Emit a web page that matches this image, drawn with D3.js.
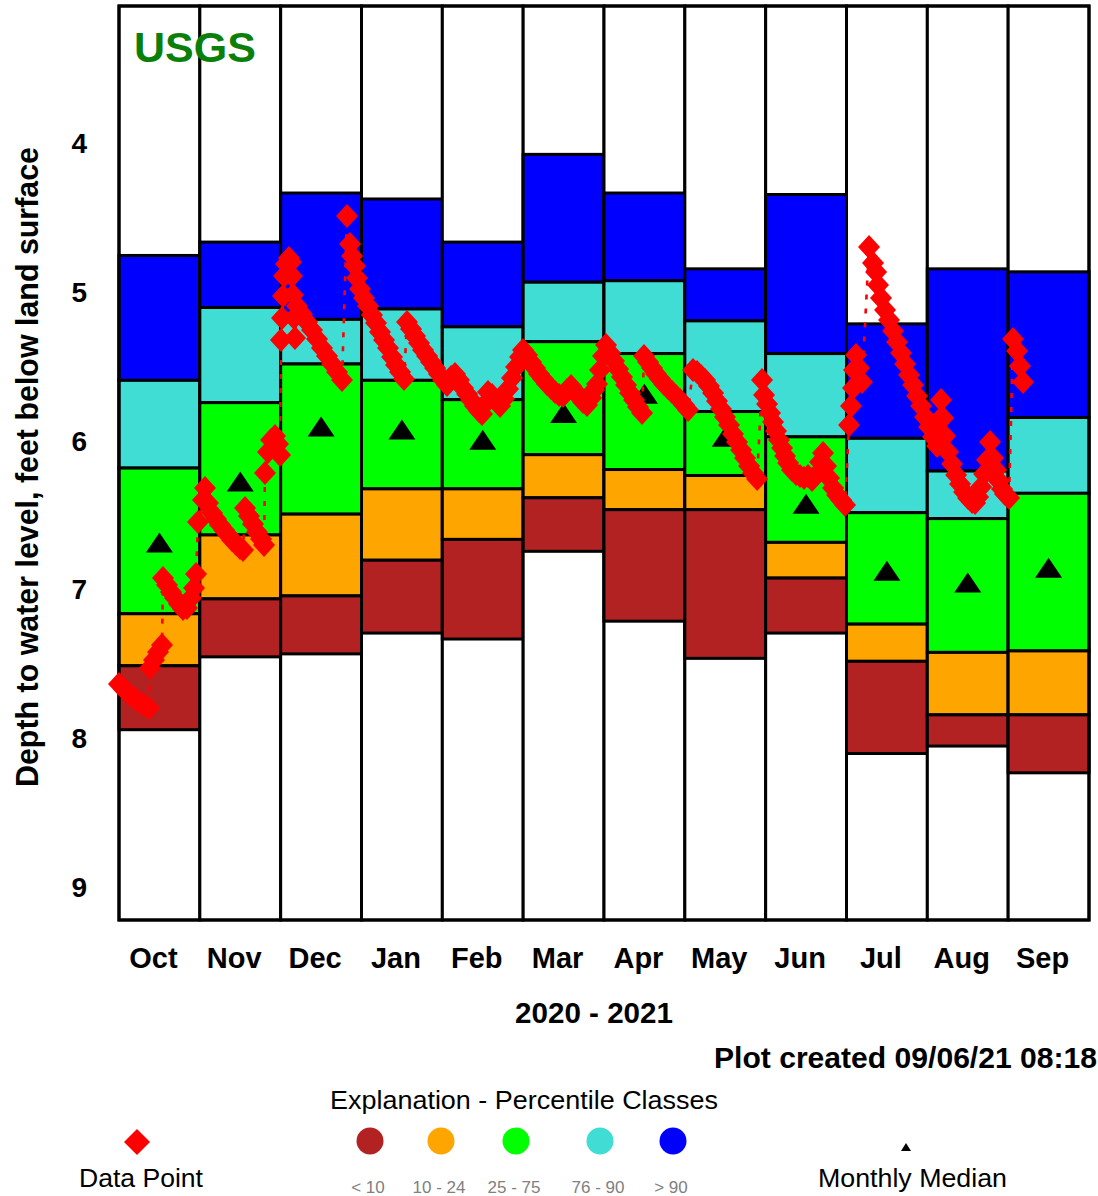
<!DOCTYPE html>
<html><head><meta charset="utf-8">
<script src="https://cdn.jsdelivr.net/npm/d3@7"></script>
<style>body{margin:0;background:#fff}svg{display:block}</style>
</head><body><svg id="c" width="1098" height="1196"></svg>
<script>
const months = ["Oct","Nov","Dec","Jan","Feb","Mar","Apr","May","Jun","Jul","Aug","Sep"];
const pctMax = [4.75,4.66,4.33,4.37,4.66,4.07,4.33,4.84,4.34,5.21,4.84,4.86];
const pct90  = [5.59,5.10,5.18,5.11,5.23,4.93,4.92,5.19,5.41,5.98,6.20,5.84];
const pct75  = [6.18,5.74,5.48,5.59,5.72,5.33,5.41,5.80,5.97,6.48,6.52,6.35];
const pct25  = [7.16,6.63,6.49,6.32,6.32,6.09,6.19,6.23,6.68,7.23,7.42,7.41];
const pct10  = [7.51,7.06,7.04,6.80,6.66,6.38,6.46,6.46,6.92,7.48,7.84,7.84];
const pctMin = [7.94,7.45,7.43,7.29,7.33,6.74,7.21,7.46,7.29,8.10,8.05,8.23];
const monthlyMedian = [6.68,6.27,5.90,5.92,5.99,5.81,5.68,5.97,6.42,6.87,6.95,6.85];
const yTicks = [4,5,6,7,8,9];
const classLabels = ["< 10","10 - 24","25 - 75","76 - 90","> 90"];
const classColors = ["#B22222","#FFA500","#00FF00","#40DDD5","#0000FF"];

// observation position in months since Oct 1 (0..12) and depth (ft)
const obsMonthPos = [
0.000,0.062,0.124,0.186,0.247,0.309,0.371,
0.384,0.433,0.483,0.532,
0.544,0.594,0.643,0.693,0.742,0.792,0.841,0.891,0.928,0.953,0.977,
1.039,1.064,1.101,1.151,1.200,1.250,1.299,1.349,1.398,1.448,1.497,1.534,
1.559,1.608,1.658,1.707,1.757,1.794,
1.806,1.843,1.881,1.930,1.967,1.992,
2.004,2.017,2.029,2.041,2.066,2.103,2.128,2.140,2.153,2.165,2.177,
2.202,2.264,2.326,2.388,2.450,2.511,2.573,2.635,2.697,2.759,
2.821,2.858,2.883,2.920,2.945,2.982,
3.031,3.081,3.130,3.180,3.229,3.279,3.328,3.378,3.427,3.477,3.526,
3.563,3.613,3.662,3.712,3.761,3.811,3.860,3.910,3.959,4.009,
4.058,4.108,4.157,4.207,4.256,4.306,4.355,4.404,4.454,4.491,4.528,4.565,4.615,4.664,4.714,4.763,4.813,4.862,4.912,4.961,4.998,
5.048,5.097,5.147,5.196,5.246,5.295,5.345,5.394,5.444,5.493,5.543,5.592,5.642,5.691,5.741,5.790,5.840,5.877,5.914,5.951,5.988,6.025,
6.075,6.124,6.174,6.223,6.273,6.322,6.372,6.421,6.471,
6.495,6.545,6.594,6.644,6.693,6.743,6.792,6.842,6.891,6.941,6.990,7.040,
7.101,7.151,7.200,7.250,7.299,7.349,7.398,7.448,7.497,7.547,7.596,7.646,7.696,7.745,7.795,7.844,7.894,
7.955,
7.980,8.017,8.054,8.091,8.128,8.165,8.203,8.240,8.277,8.326,8.376,8.425,8.475,8.524,8.574,8.623,8.673,8.710,8.747,8.784,8.834,8.883,8.933,8.982,
9.032,9.056,9.081,9.093,9.118,9.155,9.192,
9.279,9.328,9.366,9.390,9.427,9.477,9.526,9.576,9.625,9.675,9.725,9.774,9.824,9.873,9.923,9.972,10.022,
10.071,10.121,10.145,10.170,10.195,10.220,10.257,10.306,10.356,10.405,10.455,10.504,10.554,10.591,10.628,10.665,10.702,10.739,10.776,10.813,10.850,10.887,10.924,10.961,11.011,
11.060,11.110,11.147,11.184];
const obsDepth = [
7.632,7.666,7.700,7.727,7.754,7.774,7.794,
7.525,7.471,7.417,7.370,
6.919,6.966,7.014,7.054,7.094,7.128,7.121,7.054,6.987,6.893,6.543,
6.395,6.314,6.415,6.482,6.523,6.563,6.597,6.630,6.664,6.691,6.718,6.731,
6.449,6.502,6.556,6.610,6.657,6.697,
6.213,6.072,5.991,5.964,6.018,6.092,
5.318,5.170,5.022,4.888,4.807,4.767,4.794,4.888,5.016,5.170,5.305,
5.090,5.144,5.197,5.251,5.312,5.372,5.426,5.480,5.534,5.588,
4.484,4.673,4.753,4.821,4.901,4.975,
5.036,5.090,5.150,5.204,5.265,5.318,5.372,5.433,5.487,5.534,5.581,
5.197,5.244,5.292,5.339,5.386,5.426,5.466,5.507,5.547,5.588,
5.621,5.567,5.547,5.588,5.641,5.682,5.722,5.762,5.796,5.816,5.749,5.668,5.688,5.729,5.762,5.715,5.648,5.574,5.500,5.433,5.386,
5.419,5.466,5.507,5.547,5.581,5.614,5.641,5.668,5.688,5.695,5.655,5.628,5.662,5.702,5.735,5.756,5.709,5.655,5.614,5.520,5.426,5.352,
5.406,5.460,5.514,5.567,5.621,5.675,5.722,5.769,5.809,
5.426,5.466,5.507,5.547,5.581,5.614,5.641,5.668,5.695,5.722,5.756,5.789,
5.520,5.534,5.561,5.588,5.628,5.675,5.729,5.783,5.836,5.890,5.951,6.005,6.058,6.112,6.166,6.213,6.253,
5.588,
5.688,5.749,5.809,5.870,5.931,5.991,6.045,6.099,6.146,6.193,6.220,6.233,6.247,6.233,6.260,6.227,6.139,6.079,6.166,6.247,6.314,6.361,6.395,6.428,
5.890,5.762,5.641,5.520,5.419,5.507,5.601,
4.693,4.800,4.861,4.948,5.036,5.117,5.184,5.258,5.332,5.406,5.480,5.554,5.621,5.695,5.762,5.836,5.904,
5.971,6.031,5.857,5.722,5.843,5.964,6.072,6.153,6.227,6.287,6.341,6.381,6.408,6.415,6.375,6.307,6.220,6.126,6.005,6.112,6.193,6.267,6.321,6.354,6.381,
5.312,5.392,5.493,5.601];

const svg = d3.select("#c");
const font = "Liberation Sans, Arial, sans-serif";
const L = 119, R = 1089, T = 6, B = 920;
const x = d3.scaleBand().domain(months).range([L, R]).padding(0);
const xPos = d3.scaleLinear().domain([0, 12]).range([L, R]);
const y = d3.scaleLinear().domain([3.072, 9.22]).range([T, B]);
const bw = x.bandwidth();

// month columns with percentile bands
const gCols = svg.append("g");
const bandFill = ["#0000FF", "#40DDD5", "#00FF00", "#FFA500", "#B22222"];
months.forEach((m, i) => {
  gCols.append("rect").attr("x", x(m)).attr("y", T).attr("width", bw).attr("height", B - T)
    .attr("fill", "#fff").attr("stroke", "#000").attr("stroke-width", 3);
  const edges = [pctMax[i], pct90[i], pct75[i], pct25[i], pct10[i], pctMin[i]];
  for (let k = 0; k < 5; k++) {
    gCols.append("rect").attr("x", x(m)).attr("y", y(edges[k]))
      .attr("width", bw).attr("height", y(edges[k + 1]) - y(edges[k]))
      .attr("fill", bandFill[k]).attr("stroke", "#000").attr("stroke-width", 3);
  }
});

// monthly medians
svg.append("g").selectAll("path").data(months).join("path")
  .attr("d", (m, i) => {
    const cx = x(m) + bw / 2, cy = y(monthlyMedian[i]);
    return `M${cx},${cy - 10}L${cx + 13.5},${cy + 10}L${cx - 13.5},${cy + 10}Z`;
  }).attr("fill", "#000");

// outer frame
svg.append("rect").attr("x", L).attr("y", T).attr("width", R - L).attr("height", B - T)
  .attr("fill", "none").attr("stroke", "#000").attr("stroke-width", 3);

// observations
const n = Math.min(obsMonthPos.length, obsDepth.length);
const pts = d3.range(n).map(i => [xPos(obsMonthPos[i]), y(obsDepth[i])]);
svg.append("path").attr("d", d3.line()(pts)).attr("fill", "none")
  .attr("stroke", "#FF0000").attr("stroke-width", 2.6).attr("stroke-dasharray", "5,9");
svg.append("g").selectAll("path").data(pts).join("path")
  .attr("d", p => `M${p[0]},${p[1] - 12}L${p[0] + 11},${p[1]}L${p[0]},${p[1] + 12}L${p[0] - 11},${p[1]}Z`)
  .attr("fill", "#FF0000");

// axes
const ya = svg.append("g").attr("transform", `translate(${L},0)`)
  .call(d3.axisLeft(y).tickValues(yTicks).tickSize(0).tickPadding(32).tickFormat(d3.format("d")));
ya.select(".domain").remove();
ya.selectAll("text").attr("font-family", font)
  .attr("font-size", 28).attr("font-weight", "bold").attr("fill", "#000");

const xa = svg.append("g").attr("transform", `translate(0,${B})`)
  .call(d3.axisBottom(x).tickSize(0));
xa.select(".domain").remove();
xa.selectAll("text").attr("y", 48).attr("dy", 0).attr("dx", -6)
  .attr("font-family", font)
  .attr("font-size", 29).attr("font-weight", "bold").attr("fill", "#000");

// titles
svg.append("text").attr("x", 594).attr("y", 1023).attr("text-anchor", "middle")
  .attr("font-family", font).attr("font-size", 29).attr("font-weight", "bold")
  .attr("textLength", 158).attr("lengthAdjust", "spacingAndGlyphs").text("2020 - 2021");
svg.append("text").attr("transform", "translate(38,467) rotate(-90)").attr("text-anchor", "middle")
  .attr("font-family", font).attr("font-size", 32).attr("font-weight", "bold")
  .attr("textLength", 640).attr("lengthAdjust", "spacingAndGlyphs")
  .text("Depth to water level, feet below land surface");
svg.append("text").attr("x", 134).attr("y", 62).attr("font-family", font)
  .attr("font-size", 43).attr("font-weight", "bold").attr("fill", "#0A7F0A").text("USGS");
svg.append("text").attr("x", 1097).attr("y", 1068).attr("text-anchor", "end")
  .attr("font-family", font).attr("font-size", 30).attr("font-weight", "bold")
  .attr("textLength", 383).attr("lengthAdjust", "spacingAndGlyphs").text("Plot created 09/06/21 08:18");

// legend
svg.append("text").attr("x", 330).attr("y", 1109).attr("font-family", font).attr("font-size", 25)
  .attr("textLength", 388).attr("lengthAdjust", "spacingAndGlyphs").text("Explanation - Percentile Classes");
const legX = d3.scaleOrdinal().domain(classLabels).range([370, 441, 516, 600, 673]);
const lg = svg.append("g");
lg.selectAll("circle").data(classLabels).join("circle")
  .attr("cx", d => legX(d)).attr("cy", 1141).attr("r", 13.5)
  .attr("fill", (d, i) => classColors[i]);
lg.selectAll("text").data(classLabels).join("text")
  .attr("x", d => legX(d) - 2).attr("y", 1193).attr("text-anchor", "middle")
  .attr("font-family", font).attr("font-size", 17).attr("fill", "#808080").text(d => d);

svg.append("path").attr("d", "M137,1129L150,1142L137,1155L124,1142Z").attr("fill", "#FF0000");
svg.append("text").attr("x", 79).attr("y", 1187).attr("font-family", font).attr("font-size", 25)
  .attr("textLength", 124).attr("lengthAdjust", "spacingAndGlyphs").text("Data Point");
svg.append("path").attr("d", "M906,1143L911,1151L901,1151Z").attr("fill", "#000");
svg.append("text").attr("x", 818).attr("y", 1187).attr("font-family", font).attr("font-size", 25)
  .attr("textLength", 189).attr("lengthAdjust", "spacingAndGlyphs").text("Monthly Median");
</script></body></html>
